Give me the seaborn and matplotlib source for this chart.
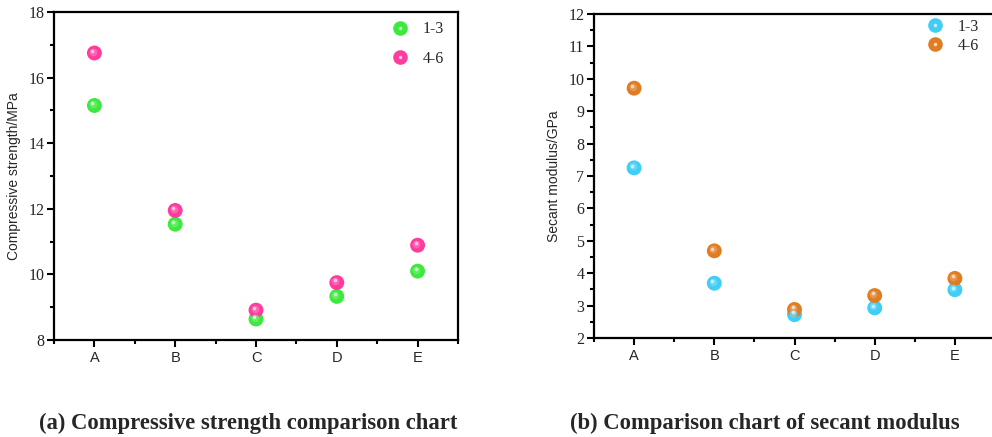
import matplotlib
matplotlib.use("Agg")
import matplotlib.pyplot as plt
import matplotlib.transforms as mtransforms
from matplotlib.lines import Line2D
from matplotlib.legend_handler import HandlerTuple
from matplotlib.ticker import MultipleLocator, FixedLocator
import seaborn as sns
import pandas as pd

categories = ["A", "B", "C", "D", "E"]
series = ["1-3", "4-6"]
strength_13 = [15.15, 11.53, 8.64, 9.33, 10.10]
strength_46 = [16.75, 11.95, 8.91, 9.75, 10.89]
modulus_13 = [7.25, 3.69, 2.72, 2.93, 3.49]
modulus_46 = [9.71, 4.69, 2.88, 3.31, 3.84]

sns.set_theme(style="white")
plt.rcParams["font.family"] = ["Liberation Sans", "DejaVu Sans"]

fig = plt.figure(figsize=(9.92, 4.37), dpi=100)
ax1 = fig.add_axes([54/992, (437-340)/437, (458-54)/992, (340-12)/437])
ax2 = fig.add_axes([594/992, (437-338)/437, (995-594)/992, (338-14)/437])

def long_df(v1, v2):
    return pd.DataFrame({
        "cat": categories * 2,
        "val": list(v1) + list(v2),
        "grp": [series[0]] * len(categories) + [series[1]] * len(categories),
    })

def lighten(c, f):
    r, g, b = matplotlib.colors.to_rgb(c)
    return (r + (1 - r) * f, g + (1 - g) * f, b + (1 - b) * f)

def panel(ax, v1, v2, colors, ylim, major, minor, ylabel, leg_pos, leg_spacing):
    df = long_df(v1, v2)
    pal = dict(zip(series, colors))
    sns.scatterplot(data=df, x="cat", y="val", hue="grp", palette=pal, s=115,
                    linewidth=0, ax=ax, legend=False, zorder=3)
    for grp, c in pal.items():
        sub = df[df.grp == grp]
        t1 = mtransforms.offset_copy(ax.transData, fig=fig, x=-1.5, y=1.5, units="dots")
        ax.scatter(sub["cat"], sub["val"], s=30, color=lighten(c, 0.25), linewidth=0,
                   transform=t1, zorder=4, alpha=0.8)
        t2 = mtransforms.offset_copy(ax.transData, fig=fig, x=-2.0, y=2.2, units="dots")
        ax.scatter(sub["cat"], sub["val"], s=7, color=lighten(c, 0.7), linewidth=0,
                   transform=t2, zorder=5)
    ax.set_xlim(-0.5, 4.5)
    ax.set_ylim(*ylim)
    ax.yaxis.set_major_locator(MultipleLocator(major))
    ax.yaxis.set_minor_locator(MultipleLocator(minor))
    ax.xaxis.set_minor_locator(FixedLocator([-0.5, 0.5, 1.5, 2.5, 3.5, 4.5]))
    ax.tick_params(axis="both", which="major", direction="out", length=5, width=1.5,
                   color="black", bottom=True, left=True)
    ax.tick_params(axis="both", which="minor", direction="out", length=3, width=1.5,
                   color="black", bottom=True, left=True)
    ax.tick_params(axis="x", which="major", labelsize=10.5, pad=3)
    ax.tick_params(axis="y", which="major", labelsize=11.5, pad=2)
    for lab in ax.get_yticklabels():
        lab.set_family(["Liberation Serif", "DejaVu Serif"])
    for sp in ax.spines.values():
        sp.set_linewidth(1.6)
        sp.set_color("black")
    ax.set_xlabel("")
    ax.set_ylabel(ylabel, fontsize=10, labelpad=5)
    handles = []
    for c in colors:
        base = Line2D([], [], marker="o", linestyle="none", markersize=10.5,
                      markerfacecolor=c, markeredgewidth=0)
        hl = Line2D([], [], marker="o", linestyle="none", markersize=2.5,
                    markerfacecolor=lighten(c, 0.7), markeredgewidth=0)
        handles.append((base, hl))
    ax.legend(handles, series, handler_map={tuple: HandlerTuple(ndivide=1, pad=0)},
              loc="upper right", bbox_to_anchor=leg_pos, frameon=False,
              prop={"family": ["Liberation Serif", "DejaVu Serif"], "size": 11.5},
              handletextpad=0.8, labelspacing=leg_spacing, handlelength=1.2)

panel(ax1, strength_13, strength_46, ["#3ee83e", "#ff3c9e"], (8, 18), 2, 1,
      "Compressive strength/MPa", (1.0, 1.015), 0.85)
panel(ax2, modulus_13, modulus_46, ["#40cdf6", "#e07d22"], (2, 12), 1, 0.5,
      "Secant modulus/GPa", (0.995, 1.03), 0.2)

cap_font = {"family": ["Liberation Serif", "DejaVu Serif"], "weight": "bold", "size": 16.3}
fig.text(0.250, (437-423)/437, "(a) Compressive strength comparison chart",
         ha="center", va="center", fontdict=cap_font)
fig.text(0.771, (437-423)/437, "(b) Comparison chart of secant modulus",
         ha="center", va="center", fontdict=cap_font)

fig.savefig("out.png", dpi=100)
